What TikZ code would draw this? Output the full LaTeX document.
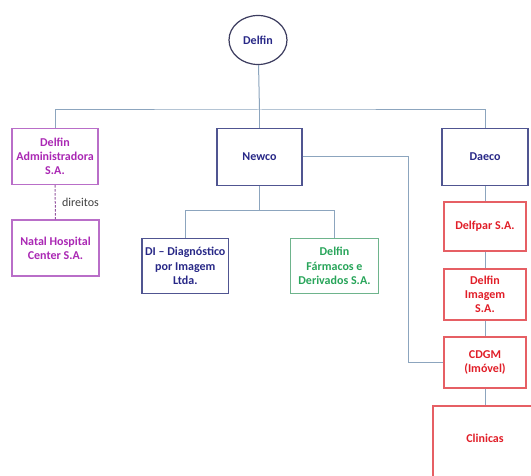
\documentclass[tikz,border=0pt]{standalone}
\usepackage{fontspec}
\setmainfont{Carlito}
\usetikzlibrary{shapes.geometric}
\definecolor{purp}{RGB}{170,40,180}
\definecolor{purpb}{RGB}{185,110,200}
\definecolor{navy}{RGB}{40,40,135}
\definecolor{navyb}{RGB}{80,85,145}
\definecolor{grn}{RGB}{40,165,90}
\definecolor{grnb}{RGB}{110,180,140}
\definecolor{rd}{RGB}{225,30,40}
\definecolor{rdb}{RGB}{230,95,100}
\definecolor{conn}{RGB}{140,165,190}
\definecolor{ellb}{RGB}{60,60,95}
\tikzset{
  box/.style={rectangle, draw, line width=1.2pt, align=center, inner sep=2pt,
    font=\fontsize{12}{14.3}\selectfont\bfseries},
  pbox/.style={box, draw=purpb, text=purp},
  nbox/.style={box, draw=navyb, text=navy},
  gbox/.style={box, draw=grnb, text=grn},
  rbox/.style={box, draw=rdb, text=rd},
  link/.style={draw=conn, line width=1pt},
}
\begin{document}
\begin{tikzpicture}[x=1pt,y=-1pt]
\useasboundingbox (0,0) rectangle (531,476);
\fill[white] (0,0) rectangle (531,476);
\clip (0,0) rectangle (531,476);
% nodes
\node[ellipse, draw=ellb, line width=1.2pt, minimum width=58pt, minimum height=49pt, inner sep=0pt,
  text=navy, font=\fontsize{12}{14.3}\selectfont\bfseries] (delfin) at (258,40) {Delfin};
\node[pbox, minimum width=86pt, minimum height=56pt] (adm) at (55,156.5) {Delfin\\Administradora\\S.A.};
\node[nbox, minimum width=85pt, minimum height=57pt] (newco) at (259.5,157) {Newco};
\node[nbox, minimum width=86pt, minimum height=57pt] (daeco) at (485,157) {Daeco};
\node[pbox, minimum width=87pt, minimum height=56pt] (natal) at (55.5,248) {Natal Hospital\\Center S.A.};
\node[nbox, minimum width=86.5pt, minimum height=55.5pt] (di) at (185.3,266) {DI -- Diagnóstico\\por Imagem\\Ltda.};
\node[gbox, minimum width=88pt, minimum height=55.5pt] (farm) at (334.5,266) {Delfin\\Fármacos e\\Derivados S.A.};
\node[rbox, minimum width=82pt, minimum height=49pt] (delfpar) at (485,226.5) {Delfpar S.A.};
\node[rbox, minimum width=82pt, minimum height=51pt] (dimg) at (485,294.5) {Delfin\\Imagem\\S.A.};
\node[rbox, minimum width=82pt, minimum height=51pt] (cdgm) at (485,362.5) {CDGM\\(Imóvel)};
\node[rbox, minimum width=104pt, minimum height=84pt] (clin) at (485,448) {};
\node[text=rd, font=\fontsize{12}{14.3}\selectfont\bfseries] (clintxt) at (485,438) {Clinicas};
% coordinates
\coordinate (bus) at (259.5,110);
\coordinate (bus2) at (259.5,210.5);
\coordinate (elb) at (408.5,0);
% connectors
\draw[link] (delfin) -- (bus);
\draw[link] (adm.north) |- (bus) -| (daeco.north);
\draw[link] (bus) -- (newco.north);
\draw[link] (newco.south) -- (bus2);
\draw[link] (di.north) |- (bus2) -| (farm.north);
\draw[link] (newco.east) -- (newco.east -| elb) |- (cdgm.west);
\draw[link] (daeco.south) -- (delfpar.north);
\draw[link] (delfpar.south) -- (dimg.north);
\draw[link] (dimg.south) -- (cdgm.north);
\draw[link] (cdgm.south) -- (clin.north);
\draw[draw=purpb!80!black, line width=1pt, dash pattern=on 2.5pt off 1.5pt] (adm.south) -- node[right=3pt, text=black!75, font=\fontsize{12}{14.3}\selectfont] (dir) {direitos} (natal.north);
\end{tikzpicture}
\end{document}
